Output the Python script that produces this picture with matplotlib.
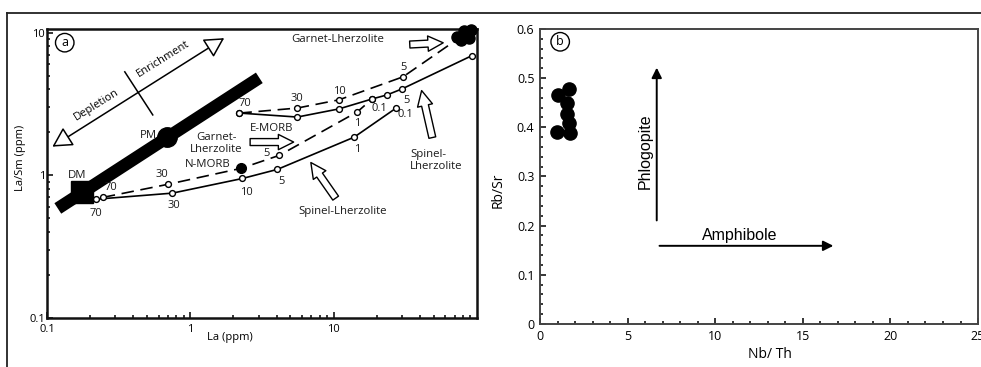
import matplotlib
matplotlib.use("Agg")
import matplotlib.pyplot as plt
from matplotlib.patches import FancyArrowPatch
from matplotlib.lines import Line2D
from matplotlib.ticker import MultipleLocator, LogLocator, NullFormatter

plt.rcParams['font.family'] = ['Open Sans', 'DejaVu Sans']

# ---------------- data: panel (a) La vs La/Sm ----------------
# mantle trend (depleted -> primitive -> enriched)
trend_la = [0.119, 3.03]
trend_lasm = [0.586, 4.82]
dm_la, dm_lasm = 0.175, 0.759
pm_la, pm_lasm = 0.684, 1.85
nmorb_la, nmorb_lasm = 2.27, 1.12

# melting curves from the depleted source (melt fraction in %)
dm_spinel_la = [0.22, 0.75, 2.31, 4.05, 13.9, 27.3]
dm_spinel_lasm = [0.68, 0.75, 0.95, 1.10, 1.85, 2.96]
dm_spinel_f = ['70', '30', '10', '5', '1', '0.1']

dm_garnet_la = [0.245, 0.695, 2.27, 4.18, 14.6, 18.6]
dm_garnet_lasm = [0.70, 0.864, 1.12, 1.38, 2.78, 3.43]
dm_garnet_f = ['70', '30', '', '5', '1', '0.1']

# melting curves from the enriched source
em_garnet_la = [2.20, 5.58, 10.9, 30.5, 72.4]
em_garnet_lasm = [2.73, 2.96, 3.38, 4.90, 8.93]
em_garnet_f = ['70', '30', '10', '5', None]

em_spinel_la = [2.20, 5.58, 10.9, 18.6, 23.6, 30.0, 92.1]
em_spinel_lasm = [2.73, 2.56, 2.92, 3.43, 3.66, 4.03, 6.89]
em_spinel_f = ['', '', '', '', '', '5', '']

# studied samples
sample_la = [72.4, 81.1, 90.7, 77.6, 87.6, 84.0]
sample_lasm = [9.37, 10.2, 10.5, 8.93, 9.2, 9.8]

# ---------------- data: panel (b) Nb/Th vs Rb/Sr ----------------
nb_th = [0.95, 1.71, 1.05, 1.67, 1.56, 1.52, 1.67]
rb_sr = [0.391, 0.388, 0.466, 0.477, 0.449, 0.428, 0.408]

# ---------------- figure ----------------
fig = plt.figure(figsize=(9.81, 3.67), dpi=100)
axa = fig.add_axes([0.0479, 0.1335, 0.4383, 0.7875])
axb = fig.add_axes([0.5505, 0.1172, 0.4465, 0.8038])

# outer frame
fig.add_artist(Line2D([7 / 981, 1.0], [1 - 13 / 367] * 2, color='#222222', lw=1.3))
fig.add_artist(Line2D([7 / 981] * 2, [0.0, 1 - 13 / 367], color='#222222', lw=1.3))

# ---- panel a ----
axa.set_xscale('log')
axa.set_yscale('log')
axa.set_xlim(0.1, 100)
axa.set_ylim(0.1, 10.6)
axa.set_xticks([0.1, 1, 10])
axa.set_xticklabels(['0.1', '1', '10'])
axa.set_yticks([0.1, 1, 10])
axa.set_yticklabels(['0.1', '1', '10'])
axa.xaxis.set_minor_locator(LogLocator(subs=range(2, 10)))
axa.yaxis.set_minor_locator(LogLocator(subs=range(2, 10)))
axa.xaxis.set_minor_formatter(NullFormatter())
axa.yaxis.set_minor_formatter(NullFormatter())
axa.tick_params(which='both', direction='in', width=1.1, labelsize=8)
axa.tick_params(axis='x', pad=4)
axa.tick_params(axis='y', pad=1.5)
axa.tick_params(which='major', length=4)
axa.tick_params(which='minor', length=2.5)
for s in axa.spines.values():
    s.set_linewidth(1.8)
    s.set_color('#111111')

axa.plot(trend_la, trend_lasm, color='black', lw=9, solid_capstyle='butt', zorder=2)
axa.plot([dm_la], [dm_lasm], 's', color='black', ms=16, zorder=3)
axa.plot([pm_la], [pm_lasm], 'o', color='black', ms=14, zorder=3)

dash = (7.5, 4)
curves = [
    (dm_spinel_la, dm_spinel_lasm, dm_spinel_f, '-',
     [(0, -10), (1, -9), (3, -10), (3, -9), (2, -9), (7, -5)]),
    (dm_garnet_la, dm_garnet_lasm, dm_garnet_f, '--',
     [(6, 7), (-4, 7), (0, 0), (-9, 1.5), (0, -8), (5, -7)]),
    (em_garnet_la, em_garnet_lasm, em_garnet_f, '--',
     [(4, 7), (0, 7), (0, 6), (0, 7), (0, 0)]),
    (em_spinel_la, em_spinel_lasm, em_spinel_f, '-',
     [(0, 0)] * 5 + [(3, -8), (0, 0)]),
]
for xs, ys, fr, ls, offs in curves:
    line, = axa.plot(xs, ys, color='black', lw=1.2, ls=ls, zorder=3)
    if ls == '--':
        line.set_dashes(dash)
    mx = [x for x, f in zip(xs, fr) if f is not None]
    my = [y for y, f in zip(ys, fr) if f is not None]
    axa.plot(mx, my, 'o', mfc='white', mec='black', ms=4.2, mew=1.0, zorder=4)
    for x, y, f, o in zip(xs, ys, fr, offs):
        if f:
            axa.annotate(f, (x, y), xytext=o, textcoords='offset points',
                         ha='center', va='center', fontsize=8, color='#1a1a1a')

axa.plot([nmorb_la], [nmorb_lasm], 'o', color='black', ms=7, zorder=5)
axa.plot(sample_la, sample_lasm, 'o', color='black', ms=8, zorder=5, clip_on=False)

# depletion / enrichment arrow
arr = FancyArrowPatch((0.105, 1.55), (1.79, 9.37),
                      arrowstyle='<|-|>,head_length=0.55,head_width=0.3',
                      mutation_scale=22, fc='white', ec='black', lw=1.1, zorder=3)
axa.add_patch(arr)
axa.plot([0.349, 0.547], [5.31, 2.65], color='black', lw=1.1)
axa.text(0.223, 3.1, 'Depletion', rotation=32, ha='center', va='center',
         rotation_mode='anchor', fontsize=8)
axa.text(0.65, 6.5, 'Enrichment', rotation=32, ha='center', va='center',
         rotation_mode='anchor', fontsize=8)


def hollow_arrow(ax, start, end):
    ax.add_patch(FancyArrowPatch(start, end,
                                 arrowstyle='simple,head_length=1.1,head_width=1.1,tail_width=0.5',
                                 mutation_scale=10, fc='white', ec='black', lw=1.0, zorder=4))


hollow_arrow(axa, (32.5, 8.23), (60.8, 8.5))
hollow_arrow(axa, (2.5, 1.71), (5.5, 1.71))
hollow_arrow(axa, (49.3, 1.76), (40.7, 4.10))
hollow_arrow(axa, (10.6, 0.667), (6.76, 1.275))

txt = dict(fontsize=8.2, color='#1a1a1a')
axa.text(10.6, 8.93, 'Garnet-Lherzolite', ha='center', va='center', **txt)
axa.text(3.68, 2.14, 'E-MORB', ha='center', va='center', **txt)
axa.text(1.52, 1.68, 'Garnet-\nLherzolite', ha='center', va='center', linespacing=1.1, **txt)
axa.text(1.32, 1.195, 'N-MORB', ha='center', va='center', **txt)
axa.text(34.1, 1.275, 'Spinel-\nLherzolite', ha='left', va='center', linespacing=1.1, **txt)
axa.text(11.5, 0.558, 'Spinel-Lherzolite', ha='center', va='center', **txt)
axa.text(0.162, 1.0, 'DM', ha='center', va='center', **txt)
axa.text(0.513, 1.91, 'PM', ha='center', va='center', **txt)
axa.text(0.133, 8.5, 'a', ha='center', va='center', fontsize=9,
         bbox=dict(boxstyle='circle,pad=0.22', fc='white', ec='black', lw=1.0))

fig.text(0.0204, 0.569, 'La/Sm (ppm)', rotation=90, ha='center', va='center', fontsize=8)
fig.text(0.2345, 0.0817, 'La (ppm)', ha='center', va='center', fontsize=8)

# ---- panel b ----
axb.set_xlim(0, 25)
axb.set_ylim(0, 0.6)
axb.set_xticks([0, 5, 10, 15, 20, 25])
axb.set_xticklabels(['0', '5', '10', '15', '20', '25'])
axb.set_yticks([0, 0.1, 0.2, 0.3, 0.4, 0.5, 0.6])
axb.set_yticklabels(['0', '0.1', '0.2', '0.3', '0.4', '0.5', '0.6'])
axb.xaxis.set_minor_locator(MultipleLocator(1))
axb.yaxis.set_minor_locator(MultipleLocator(0.02))
axb.tick_params(which='both', direction='in', width=1.1, labelsize=9, pad=4)
axb.tick_params(which='major', length=4)
axb.tick_params(which='minor', length=2.5)
for s in axb.spines.values():
    s.set_linewidth(1.4)
    s.set_color('#444444')

axb.plot(nb_th, rb_sr, 'o', color='black', ms=9.5, zorder=3)

axb.annotate('', xy=(6.66, 0.527), xytext=(6.66, 0.205),
             arrowprops=dict(arrowstyle='-|>', color='black', lw=1.4, mutation_scale=15))
axb.annotate('', xy=(16.9, 0.159), xytext=(6.66, 0.159),
             arrowprops=dict(arrowstyle='-|>', color='black', lw=1.4, mutation_scale=15))
axb.text(6.0, 0.352, 'Phlogopite', rotation=90, ha='center', va='center',
         fontsize=11.5, family=['Liberation Sans', 'DejaVu Sans'])
axb.text(11.4, 0.18, 'Amphibole', ha='center', va='center',
         fontsize=11.5, family=['Liberation Sans', 'DejaVu Sans'])
axb.text(1.15, 0.574, 'b', ha='center', va='center', fontsize=9,
         bbox=dict(boxstyle='circle,pad=0.22', fc='white', ec='black', lw=1.0))

fig.text(498 / 981, 0.482, 'Rb/Sr', rotation=90, ha='center', va='center', fontsize=10)
fig.text(770 / 981, 0.033, 'Nb/ Th', ha='center', va='center', fontsize=10)

fig.savefig('out.png', dpi=100)
